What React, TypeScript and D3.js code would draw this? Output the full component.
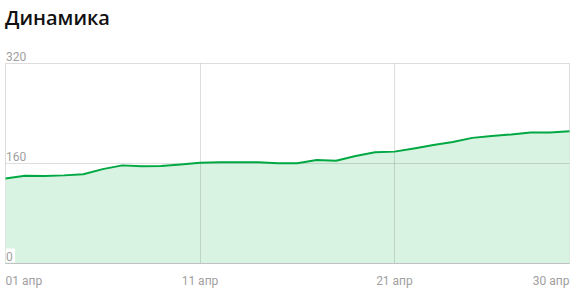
import React from "react";
import * as d3 from "d3";

const days: number[] = Array.from({ length: 30 }, (_, i) => i + 1);
const values: number[] = [
  136, 140.5, 140, 141, 142.7, 151, 157, 155.5, 156, 158.4,
  161.3, 162, 162, 162, 160.3, 160.3, 165.6, 164.5, 172, 178,
  179, 184, 189.6, 194.4, 201, 204, 206.4, 209.6, 209.6, 211.5,
];
const yTicks: number[] = [0, 160, 320];
const xTicks: number[] = [1, 11, 21, 30];
const xTickLabels: string[] = ["01 апр", "11 апр", "21 апр", "30 апр"];
const title = "Динамика";

const W = 576;
const H = 294;
const left = 5.5;
const right = 569.5;
const top = 63.5;
const bottom = 263.5;

export default function App() {
  const x = d3.scaleLinear().domain([1, 30]).range([left, right]);
  const y = d3.scaleLinear().domain([0, 320]).range([bottom, top]);
  const pts = days.map((d, i) => [d, values[i]] as [number, number]);
  const line = d3.line<[number, number]>().x((d) => x(d[0])).y((d) => y(d[1]));
  const area = d3
    .area<[number, number]>()
    .x((d) => x(d[0]))
    .y0(y(0))
    .y1((d) => y(d[1]));
  const font = "Roboto, 'Open Sans', sans-serif";
  return (
    <svg
      width={W}
      height={H}
      style={{ position: "absolute", left: 0, top: 0, background: "#fff" }}
    >
      <text
        x={5}
        y={25}
        fontFamily="'Open Sans', 'Noto Sans', sans-serif"
        fontWeight={600}
        fontSize={20}
        fill="#111"
      >
        {title}
      </text>
      <rect x={left} y={top} width={right - left} height={bottom - top} fill="none" stroke="#dddddd" strokeWidth={1} />
      <path d={area(pts) || ""} fill="#d9f3e2" />
      {yTicks
        .filter((t) => t !== 0 && t !== 320)
        .map((t) => (
          <line key={t} x1={left} x2={right} y1={y(t)} y2={y(t)} stroke="rgba(0,0,0,0.13)" />
        ))}
      {xTicks
        .filter((t) => t !== 1 && t !== 30)
        .map((t) => (
          <line key={t} x1={Math.round(x(t)) + 0.5} x2={Math.round(x(t)) + 0.5} y1={top} y2={bottom} stroke="rgba(0,0,0,0.13)" />
        ))}
      <line x1={left} x2={right} y1={bottom} y2={bottom} stroke="#c2c2c2" />
      <path d={line(pts) || ""} fill="none" stroke="#00a843" strokeWidth={2} strokeLinejoin="round" />
      {yTicks.map((t) => (
        <g key={t}>
          <rect x={left + 0.5} y={y(t) - 15} width={t === 0 ? 9 : 22} height={14} fill="#fff" />
          <text x={6} y={y(t) - 3} fontFamily={font} fontSize={12} fill="#a0a0a0">
            {t}
          </text>
        </g>
      ))}
      {xTicks.map((t, i) => (
        <text
          key={t}
          x={i === 0 ? left : i === xTicks.length - 1 ? right : x(t)}
          y={285}
          fontFamily={font}
          fontSize={12}
          fill="#a0a0a0"
          textAnchor={i === 0 ? "start" : i === xTicks.length - 1 ? "end" : "middle"}
        >
          {xTickLabels[i]}
        </text>
      ))}
    </svg>
  );
}
